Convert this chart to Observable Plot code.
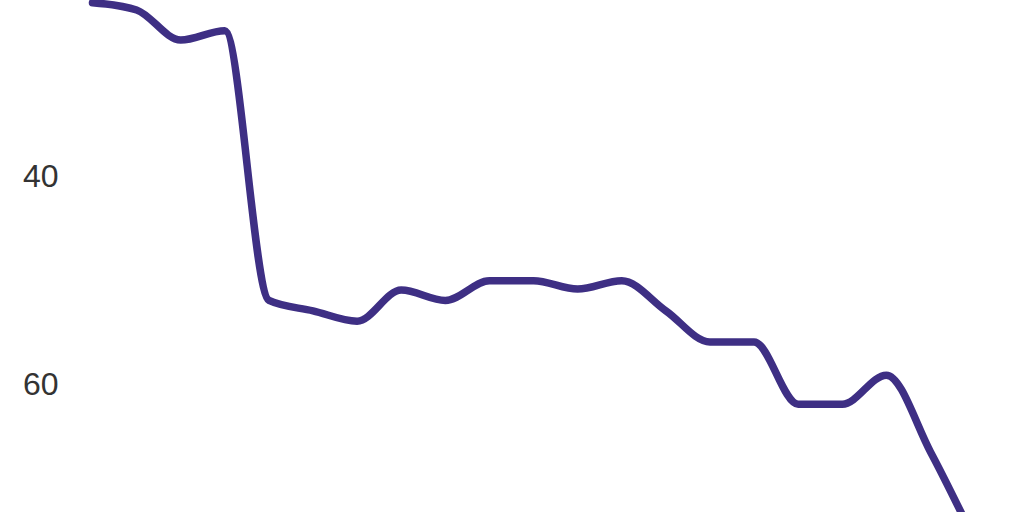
<!DOCTYPE html>
<html>
<head>
<meta charset="utf-8">
<script src="https://cdn.jsdelivr.net/npm/d3@7"></script>
<script src="https://cdn.jsdelivr.net/npm/@observablehq/plot@0.6"></script>
<style>
  html, body { margin: 0; padding: 0; background: #fff; }
  #chart { width: 1024px; height: 512px; overflow: hidden; }
</style>
</head>
<body>
<div id="chart"></div>
<script>
const steps = [0, 1, 2, 3, 4, 5, 6, 7, 8, 9, 10, 11, 12, 13, 14, 15, 16, 17, 18, 19, 20];
const values = [23.2, 23.9, 26.8, 25.9, 51.9, 52.9, 53.9, 50.9, 51.9, 50.0, 50.0, 50.8, 50.0, 52.9, 55.9, 55.9, 61.9, 61.9, 59.1, 66.5, 75.0];
const yTicks = [40, 60];

const data = steps.map((s, i) => ({step: s, value: values[i]}));

const chart = Plot.plot({
  width: 1024,
  height: 512,
  marginTop: 0,
  marginBottom: 0,
  marginLeft: 92,
  marginRight: 94,
  style: {background: "#fff", fontFamily: "'Liberation Sans', Arial, sans-serif", fontSize: "32px", color: "#333", overflow: "hidden"},
  x: {domain: [0, 19], axis: null},
  y: {domain: [22.99, 72.34], reverse: true, ticks: yTicks, tickSize: 0, tickPadding: 34, label: null},
  marks: [
    Plot.axisY({ticks: yTicks, tickSize: 0, tickPadding: 34, label: null, fontSize: 32, fill: "#333"}),
    Plot.line(data, {x: "step", y: "value", curve: "monotone-x", stroke: "#3e2f84", strokeWidth: 7.5})
  ]
});
document.getElementById("chart").appendChild(chart);
</script>
</body>
</html>
